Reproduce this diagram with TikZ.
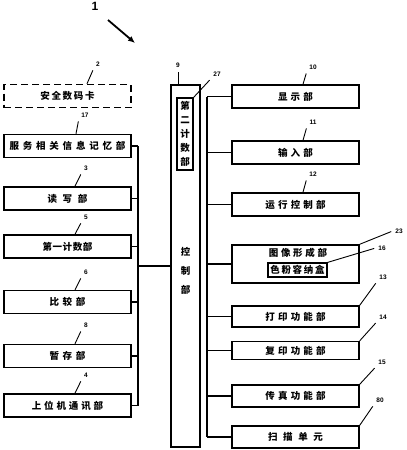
\documentclass[tikz,border=0pt]{standalone}
\usepackage{fontspec}
\newfontfamily\cjk{Noto Sans CJK SC}
\newfontfamily\numf{Liberation Sans}
\usetikzlibrary{arrows.meta}

\begin{document}
\begin{tikzpicture}[x=1pt, y=-1pt, line width=1.5pt,
  unit/.style={draw, minimum width=127pt, minimum height=23pt, inner sep=0pt,
    font=\cjk\bfseries\fontsize{9.5}{11}\selectfont\addfontfeature{LetterSpace=#1}},
  unit/.default=35,
  tag/.style={font=\numf\bfseries\fontsize{6.5}{7}\selectfont, inner sep=2pt},
  lead/.style={line width=0.9pt, shorten >=1.5pt}]

  \useasboundingbox (0,0) rectangle (407,450);

  % ---------------------------------------------------------------- figure no.
  \node[font=\numf\bfseries\fontsize{12}{13}\selectfont] (t1) at (95,6) {1};
  \coordinate (a1s) at (108,20);
  \coordinate (a1e) at (135,43);
  \draw[line width=1.8pt, -{Latex[length=7pt, width=6pt]}] (a1s) -- (a1e);

  % ---------------------------------------------------------------- controller
  \node[draw, minimum width=29pt, minimum height=362pt, inner sep=0pt]
    (ctrl) at (185.5,266) {};
  \node[font=\cjk\bfseries\fontsize{9.5}{19}\selectfont, align=center, inner sep=0pt]
    (ctrltxt) at (185.5,271) {控\\制\\部};
  \node[draw, line width=1.2pt, minimum width=16pt, minimum height=72pt,
    inner sep=0pt, align=center, font=\cjk\bfseries\fontsize{9.5}{14}\selectfont]
    (cnt2) at (185,134) {第\\二\\计\\数\\部};

  % ---------------------------------------------------------------- left units
  \node[unit=18, dashed, dash pattern=on 7pt off 4pt] (card) at (67.5,96) {安全数码卡};
  \node[unit=40] (mem)  at (67.5,146)   {服务相关信息记忆部};
  \node[unit=58] (rw)   at (67.5,198.5) {读写部};
  \node[unit=6]  (cnt1) at (67.5,246.5) {第一计数部};
  \node[unit=38] (cmp)  at (67.5,302)   {比较部};
  \node[unit=38] (tmp)  at (67.5,356)   {暂存部};
  \node[unit=30] (host) at (67.5,405.5) {上位机通讯部};

  % Left bus: every unit but the card hangs on it, one stub to the controller.
  \coordinate (lbus) at (138,266);
  \foreach \u in {mem,rw,cnt1,cmp,tmp,host}
    \draw (\u.east) -- (\u.east -| lbus);
  \draw (mem.east -| lbus) -- (host.east -| lbus);
  \draw (lbus) -- (lbus -| ctrl.west);

  % ---------------------------------------------------------------- right units
  \node[unit=33] (disp) at (295.5,96.5)  {显示部};
  \node[unit=33] (inp)  at (295.5,152.5) {输入部};
  \node[unit=33] (run)  at (295.5,204.5) {运行控制部};
  \node[unit, minimum height=38pt] (img) at (295.5,264) {};
  \node[font=\cjk\bfseries\fontsize{9.5}{11}\selectfont\addfontfeature{LetterSpace=28},
    inner sep=0pt] (imgtxt) at (298,253) {图像形成部};
  \node[draw, line width=1.2pt, minimum width=59pt, minimum height=14pt,
    inner sep=0pt, font=\cjk\bfseries\fontsize{9.5}{11}\selectfont\addfontfeature{LetterSpace=18}]
    (toner) at (297.5,270) {色粉容纳盒};
  \node[unit=33, minimum height=21pt] (prt)  at (295.5,316.5) {打印功能部};
  \node[unit=33, minimum height=18pt] (copy) at (295.5,350.5) {复印功能部};
  \node[unit=33, minimum height=22pt] (fax)  at (295.5,396)   {传真功能部};
  \node[unit=58, minimum height=22pt] (scan) at (295.5,437) {扫描单元};

  % Right bus runs beside the controller.
  \coordinate (rbus) at (207,0);
  \foreach \u in {disp,inp,run,img,prt,copy,fax,scan}
    \draw (\u.west) -- (\u.west -| rbus);
  \draw (disp.west -| rbus) -- (scan.west -| rbus);

  % ---------------------------------------------------------------- ref. numbers
  \node[tag] (t2)  at (98,64)   {2};
  \node[tag] (t17) at (85,115)  {17};
  \node[tag] (t3)  at (86,168)  {3};
  \node[tag] (t5)  at (86,217)  {5};
  \node[tag] (t6)  at (86,272)  {6};
  \node[tag] (t8)  at (86,325)  {8};
  \node[tag] (t4)  at (86,375)  {4};
  \node[tag] (t9)  at (178,65)  {9};
  \node[tag] (t27) at (217,74)  {27};
  \node[tag] (t10) at (313,67)  {10};
  \node[tag] (t11) at (313,122) {11};
  \node[tag] (t12) at (313,174) {12};
  \node[tag] (t23) at (399,231) {23};
  \node[tag] (t16) at (382,248) {16};
  \node[tag] (t13) at (383,277) {13};
  \node[tag] (t14) at (383,317) {14};
  \node[tag] (t15) at (382,362) {15};
  \node[tag] (t80) at (380,400) {80};

  \draw[lead] ([xshift=19.5pt]card.north) -- (t2.south west);
  \draw[lead] ([xshift=8.5pt]mem.north) -- (t17.south west);
  \foreach \u/\t in {rw/t3, cnt1/t5, cmp/t6, tmp/t8, host/t4}
    \draw[lead] ([xshift=7.5pt]\u.north) -- (\t.south west);
  \draw[lead] ([xshift=-7.5pt]ctrl.north) -- (t9.south);
  \draw[lead] (cnt2.north east) -- (t27.south west);
  \foreach \u/\t in {disp/t10, inp/t11, run/t12}
    \draw[lead] ([xshift=7.5pt]\u.north) -- (\t.south west);
  \draw[lead] (img.north east) -- (t23.west);
  \draw[lead] (toner.north east) -- (t16.west);
  \foreach \u/\t in {prt/t13, copy/t14, fax/t15, scan/t80}
    \draw[lead] (\u.north east) -- (\t.south west);

\end{tikzpicture}
\end{document}
